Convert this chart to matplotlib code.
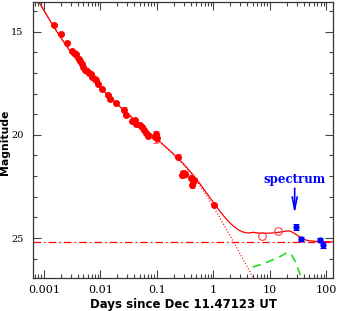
import numpy as np
import matplotlib
matplotlib.use("Agg")
import matplotlib.pyplot as plt
from matplotlib.ticker import FixedLocator, LogLocator, FuncFormatter, NullFormatter

# ---- data ----
t_red = [0.00149, 0.00202, 0.00255, 0.00313, 0.0034, 0.00368, 0.0041, 0.00433, 0.00465,
         0.00496, 0.00539, 0.0057, 0.00618, 0.0067, 0.00716, 0.00789, 0.0083, 0.00914,
         0.01063, 0.01375, 0.01456, 0.0188, 0.02575, 0.02864, 0.03565, 0.0413, 0.0430,
         0.050, 0.055, 0.0582, 0.0631, 0.0702, 0.0933, 0.101, 0.098, 0.238, 0.284,
         0.292, 0.313, 0.40, 0.42, 0.44, 0.457, 1.01]
m_red = [14.68, 15.13, 15.55, 15.95, 16.03, 16.11, 16.35, 16.44, 16.59,
         16.72, 16.84, 16.93, 17.01, 17.08, 17.19, 17.28, 17.37, 17.56,
         17.77, 18.09, 18.28, 18.46, 18.80, 19.06, 19.33, 19.30, 19.48,
         19.54, 19.62, 19.78, 19.91, 20.07, 20.10, 20.15, 19.95, 21.07, 21.92,
         21.85, 21.88, 22.07, 22.41, 22.25, 22.20, 23.41]
e_red = [0.04, 0.04, 0.04, 0.04, 0.04, 0.04, 0.04, 0.04, 0.04,
         0.04, 0.04, 0.04, 0.04, 0.04, 0.04, 0.04, 0.04, 0.05,
         0.05, 0.05, 0.06, 0.05, 0.15, 0.08, 0.06, 0.06, 0.06,
         0.05, 0.06, 0.06, 0.07, 0.07, 0.30, 0.20, 0.15, 0.12, 0.15,
         0.15, 0.15, 0.12, 0.15, 0.15, 0.12, 0.05]

t_open = [7.2, 14.3]
m_open = [24.89, 24.66]

t_blue = [29.7, 35.4, 78.9, 87.9]
m_blue = [24.45, 25.05, 25.10, 25.32]
e_blue = [0.15, 0.10, 0.10, 0.15]

# supernova bump (green dashed); first two points lie below the frame
t_sn = [2.0, 3.5, 5.0, 8.0, 12.0, 16.0, 19.0, 21.5, 24.0, 28.0, 32.0, 37.0, 45.0, 60.0, 140.0]
m_sn = [30.0, 27.6, 26.40, 26.22, 26.02, 25.86, 25.74, 25.69, 25.78, 26.10, 26.50, 27.0, 28.0, 29.0, 32.0]
sn_draw_from = 5.0

# fitted model parameters
host_mag = 25.18
rs_ref_t, rs_ref_m, rs_alpha = 0.01, 19.43, 2.08
fs_tb, fs_mb, fs_a1, fs_a2, fs_s = 0.466, 21.72, 0.9, 2.0, 2.0

spec_t, spec_text_m, spec_tip_m = 27.7, 22.15, 23.95

xticks = [0.001, 0.01, 0.1, 1, 10, 100]
yticks = [15, 20, 25]


def flux(m):
    return 10 ** (-0.4 * np.asarray(m))


def mag(f):
    return -2.5 * np.log10(f)


tt = np.logspace(np.log10(6.0e-4), np.log10(140), 800)
m_rs = rs_ref_m + 2.5 * rs_alpha * np.log10(tt / rs_ref_t)
x = tt / fs_tb
m_fs = fs_mb + 2.5 / fs_s * np.log10(x ** (fs_a1 * fs_s) + x ** (fs_a2 * fs_s))
f_ag = flux(m_rs) + flux(m_fs)
m_sn_i = np.interp(np.log10(tt), np.log10(t_sn), m_sn)
f_sn = np.where(tt >= t_sn[0], flux(m_sn_i), 0.0)
m_total = mag(f_ag + flux(host_mag) + f_sn)
m_ag = mag(f_ag)

fig = plt.figure(figsize=(3.38, 3.11), dpi=100)
ax = fig.add_axes([0.0976, 0.106, 0.888, 0.889])

red = "#ff0000"
ax.axhline(host_mag, color=red, lw=0.9, ls=(0, (6, 2.5, 1.2, 2.5)))
ax.plot(tt, m_ag, color=red, lw=0.9, ls=(0, (0.8, 1.6)))
ax.plot(tt, m_total, color=red, lw=0.9)
sn_t_draw = [t for t in t_sn if t >= sn_draw_from]
sn_m_draw = [m for t, m in zip(t_sn, m_sn) if t >= sn_draw_from]
ax.plot(sn_t_draw, sn_m_draw, color="#22dd22", lw=1.2, ls=(0, (5, 3.5)))

ax.errorbar(t_red, m_red, yerr=e_red, fmt="o", color=red, ms=4.0, mec=red,
            ecolor="#ff6060", elinewidth=0.7, capsize=1.8, capthick=0.7, zorder=5)
ax.plot(t_open, m_open, "o", mfc="none", mec="#ff4040", ms=5.5, mew=0.8, zorder=5)
ax.errorbar(t_blue, m_blue, yerr=e_blue, fmt="o", color="#0000ff", ms=3.5,
            ecolor="#0000ff", elinewidth=0.8, capsize=2, capthick=0.8, zorder=5)

ax.annotate("", xy=(spec_t, spec_tip_m), xytext=(spec_t, spec_text_m + 0.3),
            arrowprops=dict(arrowstyle="->,head_length=0.9,head_width=0.18",
                            color="#0000ff", lw=1.2))
ax.text(spec_t, spec_text_m, "spectrum", color="#0000ff", fontsize=8.5,
        fontweight="bold", family="DejaVu Serif", ha="center", va="center")

ax.set_xscale("log")
ax.set_xlim(6.4e-4, 133)
ax.set_ylim(26.93, 13.55)

ax.xaxis.set_major_locator(FixedLocator(xticks))
ax.xaxis.set_major_formatter(FuncFormatter(lambda v, p: "%g" % v))
ax.xaxis.set_minor_locator(LogLocator(base=10, subs=np.arange(2, 10), numticks=20))
ax.xaxis.set_minor_formatter(NullFormatter())
ax.yaxis.set_major_locator(FixedLocator(yticks))
ax.yaxis.set_minor_locator(FixedLocator(np.arange(13, 28, 1)))

ax.tick_params(which="both", direction="in", top=True, right=True, color="#444444",
               width=0.8)
ax.tick_params(axis="x", labelsize=8)
ax.tick_params(axis="y", labelsize=7)
ax.tick_params(which="major", length=5.5)
ax.tick_params(which="minor", length=3)
ax.tick_params(axis="y", which="major", pad=7)
ax.tick_params(axis="x", which="major", pad=5)
for lab in ax.get_xticklabels() + ax.get_yticklabels():
    lab.set_family("DejaVu Serif")

for sp in ax.spines.values():
    sp.set_color("#333333")
    sp.set_linewidth(0.9)

ax.set_xlabel("Days since Dec 11.47123 UT", fontsize=8.5, fontweight="bold",
              family="DejaVu Sans", labelpad=2)
ax.set_ylabel("Magnitude", fontsize=7.8, fontweight="bold", family="DejaVu Sans")
ax.yaxis.set_label_coords(-0.076, 0.49)

fig.savefig("out.png", dpi=100)
